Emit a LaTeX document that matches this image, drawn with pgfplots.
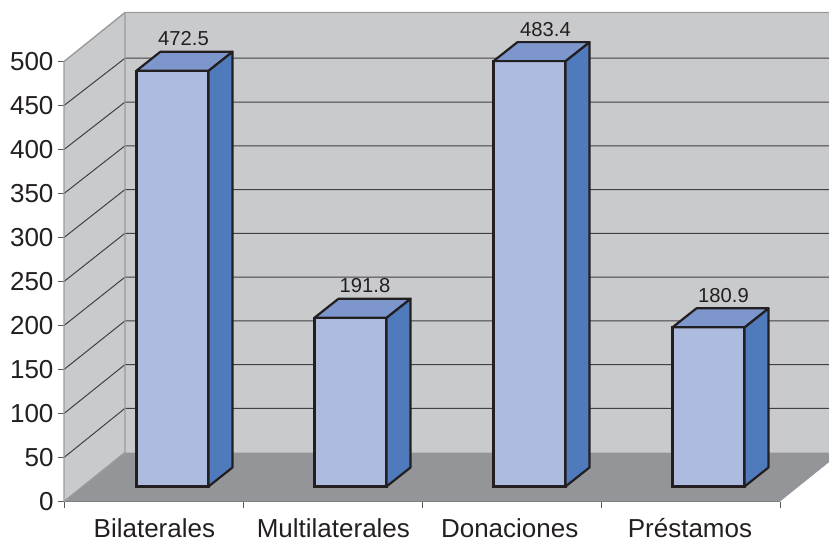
\documentclass[border=0pt]{standalone}
\usepackage{fontspec}
\setmainfont{Liberation Sans}
\usepackage{pgfplots}
\pgfplotsset{compat=1.18}
\definecolor{wall}{HTML}{C9CACC}
\definecolor{floorc}{HTML}{939598}
\definecolor{edgec}{HTML}{9A9B9D}
\definecolor{axisc}{HTML}{58595B}
\definecolor{gridc}{HTML}{414042}
\definecolor{barfront}{HTML}{ADBBDF}
\definecolor{barside}{HTML}{4F7ABB}
\definecolor{bartop}{HTML}{7D97CC}
\definecolor{ink}{HTML}{231F20}
\pgfplotsset{
  base/.style={scale only axis, width=716pt, height=440pt,
    xmin=0, xmax=4, ymin=0, ymax=500, clip=false},
  gridl/.style={draw=gridc, line width=1pt, forget plot},
  face/.style={draw=ink, line width=2.2pt, line join=round, forget plot},
  lab/.style 2 args={ybar, bar width=72pt, bar shift=0pt, fill=barfront,
    draw=ink, /tikz/line width=2.2pt, forget plot,
    nodes near coords, every node near coord/.append style={
      anchor=center, xshift=#1pt, yshift=#2pt, text=ink,
      font=\fontsize{20.2}{22}\selectfont,
      /pgf/number format/assume math mode=true,
      /pgf/number format/fixed, /pgf/number format/fixed zerofill,
      /pgf/number format/precision=1}},
}
\begin{document}
\begin{tikzpicture}
\begin{axis}[base,
    axis lines*=left,
    axis line style={draw=axisc, line width=1pt, -},
    tick style={draw=axisc, line width=1pt},
    tick align=outside,
    major tick length=6pt,
    ytick={0,50,...,500},
    xtick={0,1,2,3,4},
    xticklabels={},
    extra x ticks={0.505,1.505,2.49,3.497},
    extra x tick labels={Bilaterales,Multilaterales,Donaciones,Préstamos},
    extra x tick style={major tick length=0pt, tick style={draw=none},
      xticklabel style={yshift=-16.5pt, text height=19pt, text depth=0pt, inner ysep=0pt}},
    tick label style={font=\fontsize{26}{28}\selectfont, text=ink},
    /pgf/number format/assume math mode=true,
    yticklabel style={xshift=-1pt, yshift=-0.5pt},
  ]
% walls and floor
\addplot[fill=wall, draw=none, forget plot] coordinates {(0,0) (0.3408,55.68) (0.3408,555.68) (0,500)} -- cycle;
\addplot[fill=wall, draw=none, forget plot] coordinates {(0.3408,55.68) (4.274,55.68) (4.274,555.68) (0.3408,555.68)} -- cycle;
\addplot[fill=floorc, draw=none, forget plot] coordinates {(0,0) (4,0) (4.274,44.77) (4.274,55.68) (0.3408,55.68)} -- cycle;
% grid on left and back wall
\addplot[gridl] coordinates {(0,50) (0.3408,105.9) (4.274,105.9)};
\addplot[gridl] coordinates {(0,100) (0.3408,155.6) (4.274,155.6)};
\addplot[gridl] coordinates {(0,150) (0.3408,205.3) (4.274,205.3)};
\addplot[gridl] coordinates {(0,200) (0.3408,255) (4.274,255)};
\addplot[gridl] coordinates {(0,250) (0.3408,304.8) (4.274,304.8)};
\addplot[gridl] coordinates {(0,300) (0.3408,354.5) (4.274,354.5)};
\addplot[gridl] coordinates {(0,350) (0.3408,404.2) (4.274,404.2)};
\addplot[gridl] coordinates {(0,400) (0.3408,453.9) (4.274,453.9)};
\addplot[gridl] coordinates {(0,450) (0.3408,503.7) (4.274,503.7)};
% wall edges
\addplot[draw=edgec, line width=1.4pt, forget plot] coordinates {(0,0) (0,500) (0.3408,555.68) (4.274,555.68)};
\addplot[draw=edgec, line width=1.4pt, forget plot] coordinates {(0.3408,555.68) (0.3408,55.68) (0,0)};
\end{axis}
% bars stand a little behind the front edge, so their axis is shifted
\begin{axis}[base, hide axis, at={(18pt,15pt)}, anchor=south west]
\addplot[lab={11}{32}] coordinates {(0.5055,472.5)};
\addplot[lab={14.5}{32}] coordinates {(1.5,191.8)};
\addplot[lab={16}{32}] coordinates {(2.5,483.4)};
\addplot[lab={15}{32}] coordinates {(3.5,180.9)};
\addplot[face, fill=barside] coordinates {(0.7066,0) (0.8407,21.6) (0.8407,494.1) (0.7066,472.5)} -- cycle;
\addplot[face, fill=bartop] coordinates {(0.3044,472.5) (0.7066,472.5) (0.8407,494.1) (0.4385,494.1)} -- cycle;
\addplot[face, fill=barside] coordinates {(1.7011,0) (1.8352,21.6) (1.8352,213.4) (1.7011,191.8)} -- cycle;
\addplot[face, fill=bartop] coordinates {(1.2989,191.8) (1.7011,191.8) (1.8352,213.4) (1.433,213.4)} -- cycle;
\addplot[face, fill=barside] coordinates {(2.7011,0) (2.8352,21.6) (2.8352,505) (2.7011,483.4)} -- cycle;
\addplot[face, fill=bartop] coordinates {(2.2989,483.4) (2.7011,483.4) (2.8352,505) (2.433,505)} -- cycle;
\addplot[face, fill=barside] coordinates {(3.7011,0) (3.8352,21.6) (3.8352,202.5) (3.7011,180.9)} -- cycle;
\addplot[face, fill=bartop] coordinates {(3.2989,180.9) (3.7011,180.9) (3.8352,202.5) (3.433,202.5)} -- cycle;
\end{axis}
\pgfresetboundingbox
\path[use as bounding box] (-64pt,-39.5pt) rectangle (765pt,501.5pt);
\end{tikzpicture}
\end{document}
